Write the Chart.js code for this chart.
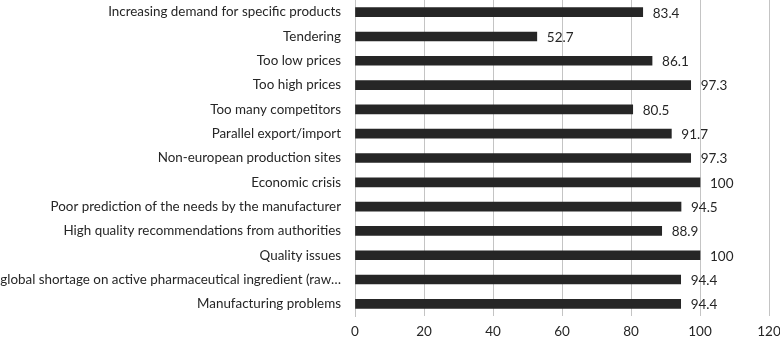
<!DOCTYPE html>
<html>
<head>
<meta charset="utf-8">
<script src="https://cdn.jsdelivr.net/npm/chart.js@4"></script>
<style>
  html, body { margin: 0; padding: 0; background: #fff; }
  #wrap { width: 780px; height: 340px; }
</style>
</head>
<body>
<div id="wrap"><canvas id="reasons-chart"></canvas></div>
<script>
const reasons = [
  "Increasing demand for specific products",
  "Tendering",
  "Too low prices",
  "Too high prices",
  "Too many competitors",
  "Parallel export/import",
  "Non-european production sites",
  "Economic crisis",
  "Poor prediction of the needs by the manufacturer",
  "High quality recommendations from authorities",
  "Quality issues",
  "global shortage on active pharmaceutical ingredient (raw\u2026",
  "Manufacturing problems"
];
const scores = [83.4, 52.7, 86.1, 97.3, 80.5, 91.7, 97.3, 100, 94.5, 88.9, 100, 94.4, 94.4];
const xTicks = [0, 20, 40, 60, 80, 100, 120];

const fontFamily = "Lato, 'Open Sans', sans-serif";
const textColor = "#262626";

// value labels at the end of each bar
const endLabels = {
  id: "endLabels",
  afterDatasetsDraw(chart) {
    const ctx = chart.ctx;
    const meta = chart.getDatasetMeta(0);
    ctx.save();
    ctx.font = "13.5px " + fontFamily;
    ctx.fillStyle = textColor;
    ctx.textAlign = "left";
    ctx.textBaseline = "middle";
    meta.data.forEach(function(bar, i) {
      ctx.fillText(String(scores[i]), bar.x + 10, bar.y + 1);
    });
    ctx.restore();
  }
};

new Chart(document.getElementById("reasons-chart"), {
  type: "bar",
  data: {
    labels: reasons,
    datasets: [{
      data: scores,
      backgroundColor: "#262626",
      borderWidth: 0,
      barThickness: 9
    }]
  },
  options: {
    indexAxis: "y",
    responsive: true,
    maintainAspectRatio: false,
    animation: false,
    layout: { padding: 0 },
    plugins: {
      legend: { display: false },
      tooltip: { enabled: false }
    },
    scales: {
      x: {
        min: xTicks[0],
        max: xTicks[xTicks.length - 1],
        afterFit: function(scale) {
          scale.height = 24;
          scale.paddingLeft = 0;
          scale.paddingRight = 11;
        },
        grid: {
          color: "#c4c4c4",
          lineWidth: 1,
          drawTicks: false
        },
        border: { display: false },
        ticks: {
          stepSize: xTicks[1] - xTicks[0],
          color: textColor,
          font: { family: fontFamily, size: 13.5 },
          padding: 8
        }
      },
      y: {
        afterFit: function(scale) {
          scale.width = 355;
          scale.paddingTop = 0;
          scale.paddingBottom = 0;
        },
        grid: { display: false },
        border: { display: true, color: "#c4c4c4" },
        ticks: {
          color: textColor,
          font: { family: fontFamily, size: 13.4 },
          padding: 6,
          autoSkip: false
        }
      }
    }
  },
  plugins: [endLabels]
});
</script>
</body>
</html>
